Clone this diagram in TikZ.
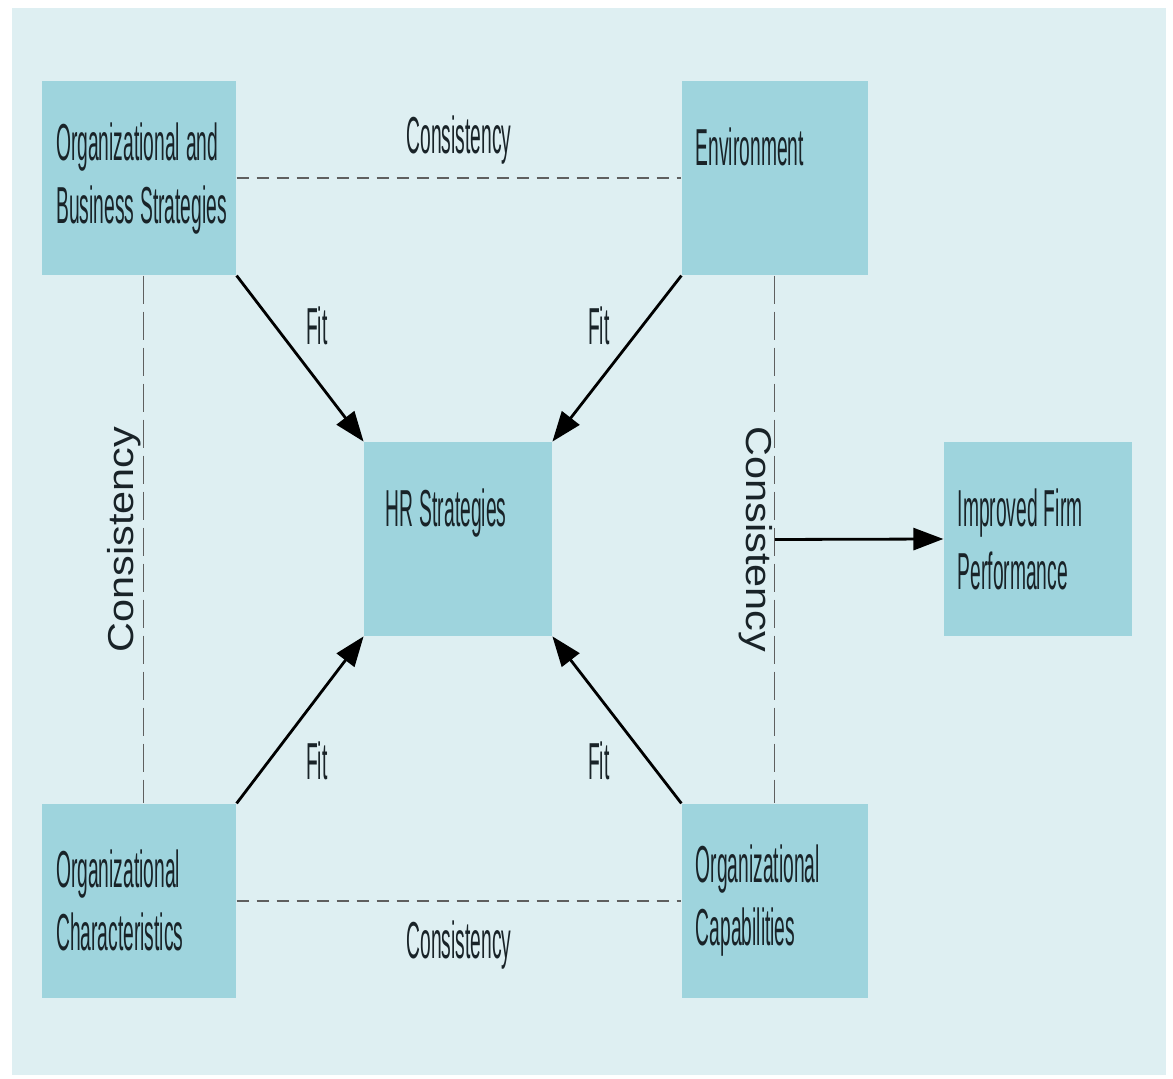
\documentclass[tikz,border=0pt]{standalone}
\usepackage{fontspec}
\setmainfont{Liberation Sans}
\newfontfamily\narrowfont[FakeStretch=0.37]{Liberation Sans}
\newfontfamily\wideafont[FakeStretch=1.15]{Liberation Sans}
\usetikzlibrary{arrows.meta,positioning,calc}

\definecolor{panelbg}{RGB}{222,239,242}
\definecolor{boxfill}{RGB}{158,212,221}
\definecolor{linegray}{RGB}{95,95,95}
\definecolor{inkdark}{RGB}{25,35,40}

% condensed face at the diagram size, and a narrow word gap to go with it
\newcommand{\boxfont}{\narrowfont\fontsize{26}{31.5}\selectfont\hyphenpenalty=10000\relax}
\newcommand{\gap}{\nobreak\hspace{3pt}}

\begin{document}
\begin{tikzpicture}

  % --- styles ---
  \tikzset{
    % light teal boxes, text set flush left
    hrbox/.style={
      fill=boxfill,
      draw=none,
      text=inkdark,
      font=\boxfont,
      align=left,
      text width=80pt,
      inner xsep=7pt,
      inner ysep=0pt,
      minimum width=94pt,
      minimum height=97pt
    },
    % black arrows with large solid heads
    fitarrow/.style={
      draw=black,
      line width=1.4pt,
      -{Triangle[length=15pt,width=11pt]}
    },
    % dashed consistency links
    conslink/.style={draw=linegray, line width=0.8pt, dash pattern=on 6pt off 4pt},
    conslinkv/.style={draw=linegray, line width=0.5pt, dash pattern=on 14pt off 4pt},
    % labels
    fitlabel/.style={font=\boxfont, text=inkdark},
    conslabel/.style={font=\wideafont\fontsize{18}{22}\selectfont, text=inkdark, inner sep=1pt}
  }

  % --- background panel ---
  \fill[white] (-229pt,-270pt) rectangle (357.5pt,269.5pt);
  \fill[panelbg] (-223pt,-268pt) rectangle (354pt,265.5pt);

  % --- boxes ---
  % 1. HR strategies in the middle
  \node[hrbox, inner xsep=11pt, text width=72pt] (hr) at (0,0) {HR\gap Strategies\\~};

  % 2. the four corners
  \node[hrbox, minimum width=97pt, text width=83pt, above left=83pt and 63.5pt of hr] (orgbiz) {Organizational\gap and\\Business\gap Strategies};
  \node[hrbox, minimum width=93pt, text width=79pt, above right=83pt and 64.5pt of hr] (env) {Environment\\~};
  \node[hrbox, minimum width=97pt, text width=83pt, below left=83.5pt and 63.5pt of hr] (orgchar) {Organizational\\Characteristics};
  \node[hrbox, minimum width=93pt, text width=79pt, below right=83.5pt and 64.5pt of hr] (orgcap) {Organizational\\Capabilities};

  % 3. outcome on the right
  \node[hrbox, right=195.5pt of hr] (perf) {Improved\gap Firm\\Performance};

  % --- consistency links ---
  \draw[conslink] (orgbiz.east) -- (env.west) node[fitlabel, midway, yshift=19pt] {Consistency};
  \draw[conslink] (orgchar.east) -- (orgcap.west) node[fitlabel, midway, yshift=-22pt] {Consistency};
  \draw[conslinkv] ([xshift=2pt]orgbiz.south) -- ([xshift=2pt]orgchar.north) node[conslabel, midway, anchor=south, rotate=90] {Consistency};
  \draw[conslinkv] (env.south) -- (orgcap.north) node[conslabel, midway, anchor=north, rotate=-90] {Consistency};

  % --- fit arrows ---
  \draw[fitarrow] (orgbiz.south east) -- (hr.north west) node[fitlabel, pos=0.3, xshift=21pt] {Fit};
  \draw[fitarrow] (env.south west) -- (hr.north east) node[fitlabel, pos=0.3, xshift=-22pt] {Fit};
  \draw[fitarrow] (orgchar.north east) -- (hr.south west) node[fitlabel, pos=0.3, xshift=21pt, yshift=-4pt] {Fit};
  \draw[fitarrow] (orgcap.north west) -- (hr.south east) node[fitlabel, pos=0.3, xshift=-22pt, yshift=-4pt] {Fit};

  % --- to performance ---
  \coordinate (consmid) at ($(env.south)!0.5!(orgcap.north)$);
  \draw[fitarrow] (consmid) -- (perf.west);

\end{tikzpicture}
\end{document}
